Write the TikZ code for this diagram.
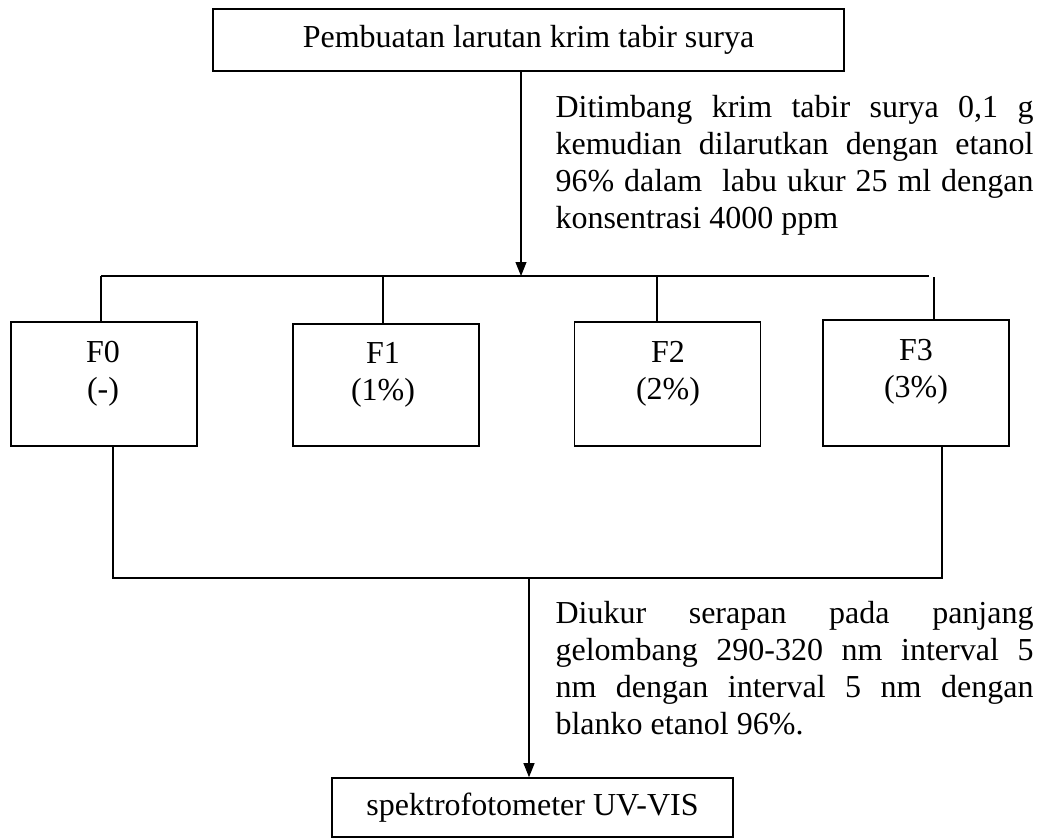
\documentclass[tikz,border=0pt]{standalone}
\usepackage{fontspec}
\setmainfont{Liberation Serif}
\usetikzlibrary{arrows.meta}
\setlength{\parindent}{0pt}
\tolerance=10000
\hyphenpenalty=10000
\newdimen\unitpx
\unitpx=0.375pt
\tikzset{
    textfont/.style={font=\fontsize{12}{13.875}\selectfont},
    flowbox/.style={draw, line width=0.6pt, inner sep=0pt, textfont},
    formbox/.style={flowbox, minimum width=186\unitpx, minimum height=124\unitpx},
    formtext/.style={anchor=base, align=center, inner sep=0pt, textfont},
    note/.style={anchor=base west, text width=478\unitpx, align=justify, inner sep=0pt, textfont},
    connector/.style={line width=0.45pt},
    arrow/.style={connector, -{Triangle[length=5.25pt, width=4.1pt]}}
}
\begin{document}
\begin{tikzpicture}[x=0.375pt, y=-0.375pt]
\useasboundingbox (0,0) rectangle (1046,838);

% Preparation step
\node[flowbox, minimum width=631\unitpx, minimum height=62\unitpx] (prep) at (528.5,40) {Pembuatan larutan krim tabir surya};
\node[note] (weigh) at (555,117) {Ditimbang krim tabir surya 0,1 g\linebreak
kemudian dilarutkan dengan etanol\linebreak
96\% dalam \ labu ukur 25 ml dengan\linebreak
konsentrasi 4000 ppm};

% Split into formulas
\coordinate (split) at (521,276);
\coordinate (busL) at (101,276);
\coordinate (busR) at (929,276);
\draw[arrow] (prep.south -| split) -- (split);
\draw[connector] (busL) -- (busR);

% Formula boxes (text anchored on its second line)
\node[formbox] (f0) at (104,384) {};
\node[formbox, minimum height=122\unitpx] (f1) at (386,385) {};
\node[formbox] (f2) at (667.5,384) {};
\node[formbox, minimum height=126\unitpx] (f3) at (916,383) {};
\node[formtext] (f0text) at (103,399) {F0\\(-)};
\node[formtext] (f1text) at (383,400) {F1\\(1\%)};
\node[formtext] (f2text) at (668,399) {F2\\(2\%)};
\node[formtext] (f3text) at (916,397) {F3\\(3\%)};

\foreach \f/\x in {f0/101, f1/383, f2/657} {
    \coordinate (top\f) at (\x,276);
    \draw[connector] (top\f) -- (top\f |- \f.north);
}
\coordinate (topf3) at (934,277);
\draw[connector] (topf3) -- (topf3 |- f3.north);

% Join to measurement
\coordinate (joinL) at (113,578);
\coordinate (joinR) at (942,578);
\coordinate (join) at (529,578);
\draw[connector] (f0.south -| joinL) -- (joinL) -- (joinR) -- (f3.south -| joinR);

\node[note] (measure) at (555,623) {Diukur serapan pada panjang\linebreak
gelombang 290-320 nm interval 5\linebreak
nm dengan interval 5 nm dengan\linebreak
blanko etanol 96\%.};

% Instrument
\node[flowbox, minimum width=401\unitpx, minimum height=59\unitpx] (spektro) at (532.5,807.5) {spektrofotometer UV-VIS};
\draw[arrow] (join) -- (join |- spektro.north);
\end{tikzpicture}
\end{document}
